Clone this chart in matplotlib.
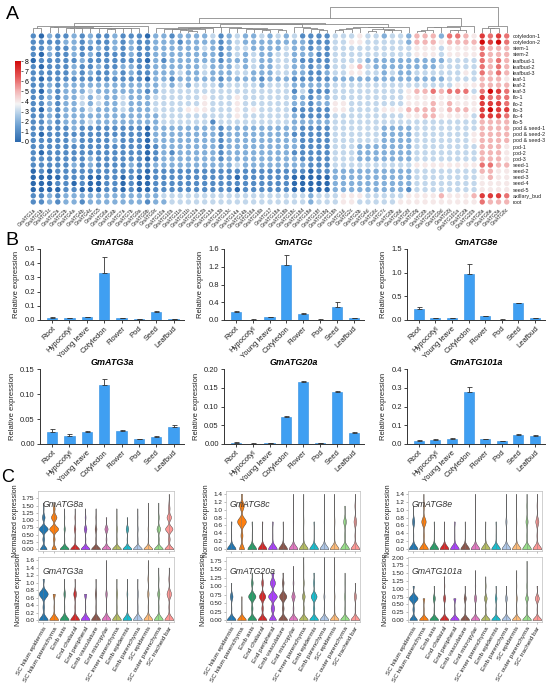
import numpy as np
import matplotlib
matplotlib.use('Agg')
import matplotlib.pyplot as plt
from matplotlib.colors import LinearSegmentedColormap, Normalize
from matplotlib.cm import ScalarMappable
from matplotlib.ticker import FormatStrFormatter
from matplotlib import cbook

plt.rcParams['font.family'] = ['Liberation Sans', 'DejaVu Sans']

# ---------------- panel A data: log2 expression (0-8), rows = samples, cols = genes
tissue_rows = ['cotyledon-1', 'cotyledon-2', 'stem-1', 'stem-2', 'leafbud-1', 'leafbud-2',
               'leafbud-3', 'leaf-1', 'leaf-2', 'leaf-3', 'flo-1', 'flo-2', 'flo-3', 'flo-4',
               'flo-5', 'pod & seed-1', 'pod & seed-2', 'pod & seed-3', 'pod-1', 'pod-2',
               'pod-3', 'seed-1', 'seed-2', 'seed-3', 'seed-4', 'seed-5', 'axillary_bud', 'root']

gene_cols = ['GmATG1a', 'GmATG1b', 'GmATG1c', 'GmATG2a', 'GmATG2b', 'GmATG4a', 'GmATG4b',
             'GmATG4c', 'GmATG5', 'GmATG6a', 'GmATG6b', 'GmATG7a', 'GmATG7b', 'GmATG9a',
             'GmATG9b', 'GmATG9c', 'GmATG10a', 'GmATG10b', 'GmATG11a', 'GmATG11b', 'GmATG12a',
             'GmATG12b', 'GmATG13a', 'GmATG13b', 'GmATG13c', 'GmATG14a', 'GmATG14b', 'GmATG16a',
             'GmATG16b', 'GmATG17', 'GmATG18a', 'GmATG18b', 'GmATG18c', 'GmATG18d', 'GmATG18e',
             'GmATG18f', 'GmATG18g', 'GmATG18h', 'GmATG1d', 'GmATG2c', 'GmATG3b', 'GmATG4d',
             'GmATG6c', 'GmATG7c', 'GmATG8b', 'GmATG8d', 'GmATG8f', 'GmATG8g', 'GmATG8h',
             'GmATG20a', 'GmATG9d', 'GmATG8j', 'GmATG101a', 'GmATG8k', 'GmATG20b', 'GmATG8a',
             'GmATG8e', 'GmATG3a', 'GmATG8c']

heat_rows = [
    "1021121211 2111022122 2231232232 3231111333 4332332555 266547676",
    "1111221211 2121122212 2221232222 2222111334 4333332555 455558786",
    "1121121121 2121122222 2321233222 2322121333 3333333444 344446555",
    "1021121211 1121122222 2221232322 3322211333 3333333444 344446555",
    "0111112111 1111021222 2221222322 3321111333 3222222222 233336565",
    "1011121121 1221122222 2322232322 3322121334 5322222222 333336565",
    "1111121211 2121122232 2322233222 3322112334 4332322333 333436565",
    "1011111111 1111022122 2221222212 2211111222 2222222222 233335554",
    "1121222222 2222223232 3332333323 3322222333 3333333333 334445555",
    "1021222322 2222123333 3333333333 3313111333 3333334556 566636876",
    "1121223232 2322233333 3433343333 3322122333 3333334444 444447666",
    "1121223232 2322233333 3433343333 3322122443 3333334445 454447776",
    "1021222322 2322233334 4433343433 3311111443 3334445555 455547877",
    "1121222222 2222223333 3333343333 3321111333 3333334455 444437776",
    "1121222322 2222223333 3313333333 3322222333 3333333333 333335555",
    "1111121111 1111022222 2221222222 2221111333 3332222333 333335555",
    "1011111111 1111022222 2221222222 2211111333 3332222333 333345555",
    "1111121111 2111022222 2221222222 2221111333 3332222333 333345555",
    "1111111111 1111012222 2221222222 2221111333 2222222333 333335554",
    "1011111111 1111012122 2221222222 2211111333 2222222333 333335554",
    "1111111211 1111012222 2221222222 2221111333 2222222333 333335554",
    "1111121211 1121122222 2222232222 2222111333 3333333444 444446655",
    "0101111111 1111011111 1111111111 1111011222 2222222333 333335544",
    "0000111001 1010011111 1111101111 1100000222 2222222333 333334544",
    "0001101001 1010011111 1111111111 1100000222 2222222333 333334444",
    "0000110001 1010011111 1111101111 1100000222 2222221333 333334444",
    "1121222222 2222223333 3333333333 3333233344 4333334444 544457776",
    "1121221222 2222122333 3333333333 3333233344 3333344444 444446555",
]

# ---------------- panel B data: qRT-PCR
tissues = ['Root', 'Hypocotyl', 'Young leave', 'Cotyledon', 'Flower', 'Pod', 'Seed', 'Leafbud']
qpcr_genes = ['GmATG8a', 'GmATGc', 'GmATG8e', 'GmATG3a', 'GmATG20a', 'GmATG101a']
qpcr_mean = [
    [0.015, 0.012, 0.018, 0.33, 0.015, 0.005, 0.058, 0.006],
    [0.19, 0.01, 0.06, 1.24, 0.14, 0.01, 0.30, 0.04],
    [0.23, 0.04, 0.04, 0.98, 0.08, 0.01, 0.35, 0.04],
    [0.025, 0.017, 0.025, 0.118, 0.027, 0.010, 0.015, 0.035],
    [0.004, 0.001, 0.003, 0.072, 0.165, 0.002, 0.140, 0.030],
    [0.018, 0.022, 0.028, 0.275, 0.025, 0.015, 0.050, 0.045],
]
qpcr_err = [
    [0.003, 0.002, 0.003, 0.115, 0.002, 0.001, 0.003, 0.001],
    [0.02, 0.003, 0.01, 0.23, 0.02, 0.003, 0.10, 0.01],
    [0.035, 0.005, 0.005, 0.20, 0.01, 0.002, 0.01, 0.005],
    [0.005, 0.003, 0.001, 0.013, 0.002, 0.001, 0.002, 0.004],
    [0.001, 0.0005, 0.0005, 0.004, 0.003, 0.0005, 0.001, 0.002],
    [0.002, 0.003, 0.003, 0.028, 0.003, 0.002, 0.003, 0.004],
]
qpcr_ymax = [0.5, 1.6, 1.5, 0.15, 0.20, 0.4]
qpcr_step = [0.1, 0.4, 0.5, 0.05, 0.05, 0.1]
qpcr_fmt = ['%.1f', '%.1f', '%.1f', '%.2f', '%.2f', '%.1f']

# ---------------- panel C data: single-cell, cells per normalized-expression level
cell_types = ['SC hilum epidermis', 'SC hilum parenchyma', 'Emb axis', 'End chalazal',
              'End peripheral', 'Emb vasculature', 'End micropylar', 'SC inner parenchyma',
              'Emb epidermis', 'Emb parenchyma', 'SC epidermis', 'SC outer parenchyma',
              'SC tracheid bar']
sc_genes = ['GmATG8a', 'GmATG8c', 'GmATG8e', 'GmATG3a', 'GmATG20a', 'GmATG101a']
levels = [0.0, 0.35, 0.7, 1.1, 1.4, 1.6, 1.9]
sc_counts = {
    'GmATG8a': ["30 8 40 12 3 1 0", "20 8 40 25 8 2 0", "60 3 8 3 1 0 0", "60 3 10 3 1 0 0",
                "50 4 15 5 1 0 0", "60 4 12 3 1 0 0", "40 4 14 3 0 0 0", "60 3 6 2 1 0 0",
                "50 4 14 3 0 0 0", "60 3 4 2 1 0 0", "60 3 4 2 1 1 0", "40 4 16 4 1 1 0",
                "30 6 25 15 5 2 1"],
    'GmATG8c': ["80 3 6 0 0 0 0", "20 8 35 18 4 0 0", "70 2 4 0 0 0 0", "70 2 5 0 0 0 0",
                "70 2 5 0 0 0 0", "90 1 3 0 0 0 0", "70 2 5 2 1 0 0", "80 2 3 1 1 0 0",
                "80 2 4 0 0 0 0", "70 2 4 1 1 0 0", "70 2 4 1 1 0 0", "50 4 15 3 0 0 0",
                "40 4 12 4 1 0 0"],
    'GmATG8e': ["60 3 15 2 0 0 0", "50 5 25 5 1 0 0", "80 2 3 0 0 0 0", "80 2 3 0 0 0 0",
                "70 2 5 0 0 0 0", "100 1 2 0 0 0 0", "70 2 4 2 1 0 0", "90 1 2 0 0 0 0",
                "70 2 3 0 0 0 0", "60 3 8 2 1 0 0", "90 2 3 1 1 0 0", "50 3 12 3 1 0 0",
                "40 4 14 3 1 0 0"],
    'GmATG3a': ["35 6 35 5 0 0 0", "50 3 12 0 0 0 0", "60 3 10 2 0 0 0", "50 3 15 2 0 0 0",
                "50 3 12 0 0 0 0", "60 3 10 2 0 0 0", "50 3 8 2 1 1 0", "60 3 8 2 0 0 0",
                "60 3 6 2 0 0 0", "60 3 6 2 0 0 0", "50 3 8 5 2 1 0", "50 3 12 3 1 0 0",
                "40 4 20 4 1 0 0"],
    'GmATG20a': ["50 3 15 2 0 0 0", "80 2 3 0 0 0 0", "30 5 25 6 2 0 0", "30 5 22 6 2 0 0",
                 "20 10 25 15 6 0 0", "30 6 25 6 2 0 0", "40 4 15 4 1 1 0", "40 4 12 4 1 1 1",
                 "30 5 20 4 2 0 0", "50 3 6 2 1 1 1", "60 2 4 2 1 1 1", "60 3 6 2 1 0 0",
                 "50 3 12 2 0 0 0"],
    'GmATG101a': ["30 6 35 5 0 0 0", "50 3 10 0 0 0 0", "50 3 12 2 0 0 0", "40 3 10 3 2 0 0",
                  "50 3 12 0 0 0 0", "50 3 12 2 0 0 0", "40 3 10 3 1 1 0", "40 3 12 3 1 0 0",
                  "50 3 10 2 0 0 0", "50 3 10 2 0 0 0", "50 2 6 2 1 1 0", "40 3 12 3 1 1 1",
                  "40 3 18 3 0 0 0"],
}
sc_ylim = [2.0, 1.47, 1.47, 1.68, 1.86, 2.02]
sc_ticks = [(1.75, 0.25), (1.4, 0.2), (1.4, 0.2), (1.6, 0.2), (1.75, 0.25), (2.0, 0.25)]
palette = ['#1f77b4', '#ff7f0e', '#279e68', '#d62728', '#aa40fc', '#8c564b', '#e377c2',
           '#b5bd61', '#17becf', '#aec7e8', '#ffbb78', '#98df8a', '#ff9896']

W, H = 550, 685
fig = plt.figure(figsize=(W / 100, H / 100), dpi=100)


def px_axes(x0, y0, x1, y1):
    return fig.add_axes([x0 / W, 1 - y1 / H, (x1 - x0) / W, (y1 - y0) / H])


# ================= A: dot heatmap
expr = np.array([[int(c) for c in r.replace(' ', '')] for r in heat_rows], float)
nrow, ncol = expr.shape
cmap = LinearSegmentedColormap.from_list(
    'atg', [(0, '#2c69ad'), (0.2, '#6b9fd1'), (0.35, '#b3cfe8'), (0.47, '#f5f5f5'),
            (0.62, '#f3b9b9'), (0.8, '#e65a5a'), (1.0, '#d10a0a')])

ax = px_axes(29.2, 32.9, 510.8, 205)
cc, rr = np.meshgrid(np.arange(ncol), np.arange(nrow))
ax.scatter(cc.ravel(), rr.ravel(), c=expr.ravel(), cmap=cmap, vmin=0, vmax=8, s=15,
           linewidths=0)
ax.set_xlim(-0.5, ncol - 0.5)
ax.set_ylim(nrow - 0.5, -0.5)
ax.yaxis.tick_right()
ax.set_yticks(range(nrow))
ax.set_yticklabels(tissue_rows, fontsize=3.9, color='#222')
ax.set_xticks(range(ncol))
ax.set_xticklabels(gene_cols, rotation=45, ha='right', va='top', rotation_mode='anchor',
                   fontsize=3.6, color='#222')
ax.tick_params(length=0, pad=1.5)
for s in ax.spines.values():
    s.set_visible(False)

# dendrogram: average linkage restricted to neighbouring columns (keeps display order)
vec = expr.T
dist = np.sqrt(((vec[:, None, :] - vec[None, :, :]) ** 2).sum(-1))
clusters = [[i] for i in range(ncol)]
xs = [float(i) for i in range(ncol)]
hs = [0.0] * ncol
links = []
while len(clusters) > 1:
    d_adj = [dist[np.ix_(clusters[i], clusters[i + 1])].mean() for i in range(len(clusters) - 1)]
    k = int(np.argmin(d_adj))
    h = max(d_adj[k], hs[k], hs[k + 1])
    links.append((xs[k], hs[k], xs[k + 1], hs[k + 1], h))
    clusters[k:k + 2] = [clusters[k] + clusters[k + 1]]
    xs[k:k + 2] = [(xs[k] + xs[k + 1]) / 2]
    hs[k:k + 2] = [h]

dax = px_axes(29.2, 6, 510.8, 32.5)
for x1, h1, x2, h2, h in links:
    dax.plot([x1, x1, x2, x2], [h1, h, h, h2], color='#8a8a8a', lw=0.6)
dax.set_xlim(-0.5, ncol - 0.5)
dax.set_ylim(0, hs[0] * 1.02)
dax.axis('off')

cax = px_axes(15, 61, 21, 142)
cb = fig.colorbar(ScalarMappable(norm=Normalize(0, 8), cmap=cmap), cax=cax, ticks=range(9))
cb.ax.tick_params(labelsize=5, length=1.5, width=0.4, pad=1)
cb.outline.set_visible(False)

# ================= B: bar charts
b_boxes = [(40, 249, 184, 320), (224, 249, 364, 320), (407, 249, 545, 320),
           (40, 369, 184, 444), (224, 369, 364, 444), (407, 369, 545, 444)]
xpos = np.arange(len(tissues))
for i, g in enumerate(qpcr_genes):
    bx = px_axes(*b_boxes[i])
    m = np.array(qpcr_mean[i])
    e = np.array(qpcr_err[i])
    bx.bar(xpos, m, width=0.6, color='#3f9ff2', edgecolor='#2d8de0', linewidth=0.4, zorder=2)
    bx.errorbar(xpos, m, yerr=[np.zeros_like(e), e], fmt='none', ecolor='#333333',
                elinewidth=0.6, capsize=1.8, capthick=0.6, zorder=3)
    bx.set_xlim(-0.7, 7.6)
    bx.set_ylim(0, qpcr_ymax[i])
    bx.set_yticks(np.arange(0, qpcr_ymax[i] + 1e-9, qpcr_step[i]))
    bx.yaxis.set_major_formatter(FormatStrFormatter(qpcr_fmt[i]))
    bx.set_xticks(xpos)
    bx.set_xticklabels(tissues, rotation=45, ha='right', va='top', rotation_mode='anchor')
    bx.tick_params(labelsize=5.5, length=2.2, width=0.6, pad=1.5, colors='#222')
    for s in ['top', 'right']:
        bx.spines[s].set_visible(False)
    for s in ['left', 'bottom']:
        bx.spines[s].set_linewidth(0.7)
        bx.spines[s].set_color('#333')
    bx.set_ylabel('Relative expression', fontsize=5.5, labelpad=3, color='#222')
    bx.set_title(g, fontsize=6.5, fontweight='bold', style='italic', pad=3)


# ================= C: violin plots
def kde(x, coords, bw=0.09):
    return np.exp(-0.5 * ((coords[:, None] - x[None, :]) / bw) ** 2).sum(1)


c_boxes = [(38, 491, 174, 551), (226, 491, 360, 551), (408, 491, 542, 551),
           (38, 557, 174, 622), (226, 557, 360, 622), (408, 557, 542, 622)]
cpos = np.arange(len(cell_types))
for i, g in enumerate(sc_genes):
    vx = px_axes(*c_boxes[i])
    samples = [np.repeat(levels, [int(n) for n in s.split()]) for s in sc_counts[g]]
    stats = cbook.violin_stats(samples, kde, points=200)
    parts = vx.violin(stats, positions=cpos, widths=0.85, showextrema=False)
    for body, col in zip(parts['bodies'], palette):
        body.set_facecolor(col)
        body.set_edgecolor('#3a3a3a')
        body.set_linewidth(0.3)
        body.set_alpha(1)
    vx.vlines(cpos, [s.min() for s in samples], [s.max() for s in samples],
              colors='#777777', lw=0.5, alpha=0.6, zorder=3)
    top, step = sc_ticks[i]
    vx.set_ylim(-0.05 * sc_ylim[i] / 1.6, sc_ylim[i])
    vx.set_yticks(np.arange(0, top + 1e-9, step))
    vx.yaxis.set_major_formatter(FormatStrFormatter('%.2f' if step == 0.25 else '%.1f'))
    vx.set_xlim(-0.5, len(cell_types) - 0.5)
    vx.set_xticks(cpos)
    if i >= 3:
        vx.set_xticklabels(cell_types, rotation=60, ha='right', va='top',
                           rotation_mode='anchor', fontsize=4.6)
    else:
        vx.set_xticklabels([])
    vx.tick_params(axis='y', labelsize=4.6)
    vx.tick_params(length=1.5, width=0.4, pad=1.2, color='#888', labelcolor='#222')
    for s in vx.spines.values():
        s.set_color('#bdbdbd')
        s.set_linewidth(0.5)
    vx.set_ylabel('Normalized expression', fontsize=5.1, labelpad=2, color='#222')
    vx.text(0.03, 0.77, g, transform=vx.transAxes, fontsize=6.3, style='italic',
            color='#333', va='center')

fig.text(6 / W, 1 - 6 / H, 'A', fontsize=14, va='top')
fig.text(5 / W, 1 - 232 / H, 'B', fontsize=14, va='top')
fig.text(1 / W, 1 - 469 / H, 'C', fontsize=13, va='top')

fig.savefig('out.png', dpi=100)
